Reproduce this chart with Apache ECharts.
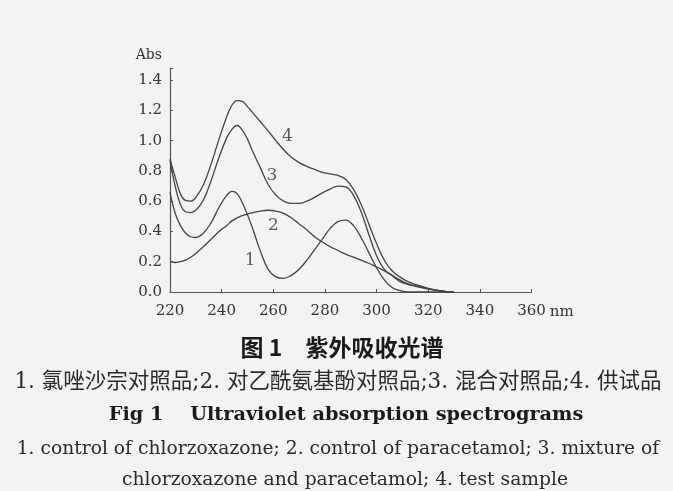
<!DOCTYPE html>
<html>
<head>
<meta charset="utf-8">
<script src="https://cdn.jsdelivr.net/npm/echarts@6/dist/echarts.min.js"></script>
<style>
html,body{margin:0;padding:0;background:#f3f3f3;}
#c{width:673px;height:491px;}
</style>
</head>
<body>
<div id="c"></div>
<script>
// Wavelengths (nm)
var wavelengths = [220,222,224,226,228,230,233,236,239,242,244,246,248,250,252,255,258,261,264,267,270,273,276,279,282,285,288,291,294,297,300,303,306,309,312,315,318,321,324,327,330];
// 1. control of chlorzoxazone
var curve1 = [0.66,0.52,0.44,0.39,0.365,0.36,0.39,0.46,0.56,0.64,0.665,0.65,0.59,0.51,0.42,0.27,0.15,0.10,0.09,0.11,0.15,0.21,0.28,0.35,0.42,0.465,0.475,0.44,0.36,0.26,0.16,0.08,0.03,0.01,0.0,0,0,0,0,0,0];
// 2. control of paracetamol
var curve2 = [0.20,0.195,0.20,0.21,0.23,0.255,0.30,0.35,0.40,0.44,0.47,0.49,0.505,0.515,0.525,0.535,0.54,0.535,0.52,0.49,0.45,0.41,0.365,0.33,0.30,0.275,0.25,0.23,0.21,0.19,0.165,0.14,0.11,0.07,0.05,0.038,0.027,0.017,0.009,0.003,0];
// 3. mixture of chlorzoxazone and paracetamol
var curve3 = [0.87,0.70,0.58,0.53,0.525,0.54,0.61,0.74,0.89,1.02,1.075,1.10,1.07,1.01,0.93,0.82,0.71,0.64,0.60,0.585,0.585,0.60,0.625,0.655,0.68,0.70,0.695,0.64,0.53,0.38,0.24,0.15,0.11,0.08,0.055,0.04,0.028,0.018,0.009,0.003,0];
// 4. test sample
var curve4 = [0.88,0.76,0.65,0.605,0.60,0.625,0.71,0.85,1.01,1.16,1.235,1.265,1.26,1.225,1.185,1.125,1.065,1.0,0.94,0.89,0.855,0.83,0.81,0.79,0.78,0.77,0.745,0.68,0.58,0.45,0.32,0.21,0.14,0.10,0.07,0.05,0.035,0.02,0.01,0.003,0];
// curve number labels [nm, Abs, text]
var curveLabels = [[251,0.21,'1'],[260,0.44,'2'],[259.5,0.77,'3'],[265.5,1.03,'4']];
// axis
var xTicks = {min:220,max:360,interval:20};
var yTicks = {min:0,max:1.48,interval:0.2};

var serif = '"DejaVu Serif","Liberation Serif",serif';
var mixed = '"DejaVu Serif","Noto Sans CJK SC",serif';
var lineColor = '#444';

function pairs(ys){ return wavelengths.map(function(w,i){return [w, ys[i]];}); }
function lineSeries(ys){
  return {type:'line', data:pairs(ys), smooth:0.4, showSymbol:false, symbol:'none',
    lineStyle:{color:lineColor,width:1.3}, silent:true, animation:false};
}

var chart = echarts.init(document.getElementById('c'), null, {renderer:'canvas'});
chart.setOption({
  backgroundColor:'#f3f3f3',
  animation:false,
  grid:{left:170,right:141.5,top:68,bottom:199,containLabel:false},
  xAxis:{type:'value',min:xTicks.min,max:xTicks.max,interval:xTicks.interval,
    name:'nm',nameLocation:'end',nameGap:6,
    nameTextStyle:{fontFamily:serif,fontSize:15,color:'#333',verticalAlign:'top',align:'left',padding:[13,0,0,0]},
    axisLine:{lineStyle:{color:'#555',width:1.2}},
    axisTick:{inside:true,length:3,lineStyle:{color:'#555'}},
    axisLabel:{fontFamily:serif,fontSize:15,color:'#333',margin:12},
    splitLine:{show:false}},
  yAxis:{type:'value',min:yTicks.min,max:yTicks.max,interval:yTicks.interval,
    name:'Abs',nameLocation:'end',nameGap:6,
    nameTextStyle:{fontFamily:serif,fontSize:14,color:'#333',align:'right',padding:[0,8,0,0]},
    axisLine:{show:true,lineStyle:{color:'#555',width:1.2}},
    axisTick:{show:true,inside:true,length:3,lineStyle:{color:'#555'}},
    axisLabel:{fontFamily:serif,fontSize:15,color:'#333',margin:8,
      formatter:function(v){ return v>1.41 ? '' : v.toFixed(1); }},
    splitLine:{show:false}},
  series:[
    lineSeries(curve1), lineSeries(curve2), lineSeries(curve3), lineSeries(curve4),
    {type:'scatter',data:curveLabels.map(function(d){return {value:[d[0],d[1]],name:d[2]};}),
      symbolSize:0,silent:true,
      label:{show:true,position:'inside',formatter:function(p){return p.name;},
        fontFamily:serif,fontSize:17,color:'#333'}}
  ],
  graphic:[
    {type:'text',x:342,y:347,style:{text:'图 1　紫外吸收光谱',font:'bold 23px "Noto Sans CJK SC"',fill:'#1a1a1a',align:'center',verticalAlign:'middle'}},
    {type:'text',x:338,y:382,style:{text:'1. 氯唑沙宗对照品;2. 对乙酰氨基酚对照品;3. 混合对照品;4. 供试品',font:'21.5px '+mixed,fill:'#2a2a2a',align:'center',verticalAlign:'middle'}},
    {type:'text',x:346,y:415,style:{text:'Fig 1    Ultraviolet absorption spectrograms',font:'bold 19.3px '+serif,fill:'#1a1a1a',align:'center',verticalAlign:'middle'}},
    {type:'text',x:338,y:449,style:{text:'1. control of chlorzoxazone; 2. control of paracetamol; 3. mixture of',font:'18.7px '+serif,fill:'#2a2a2a',align:'center',verticalAlign:'middle'}},
    {type:'text',x:345,y:480,style:{text:'chlorzoxazone and paracetamol; 4. test sample',font:'18.7px '+serif,fill:'#2a2a2a',align:'center',verticalAlign:'middle'}}
  ]
});
</script>
</body>
</html>
